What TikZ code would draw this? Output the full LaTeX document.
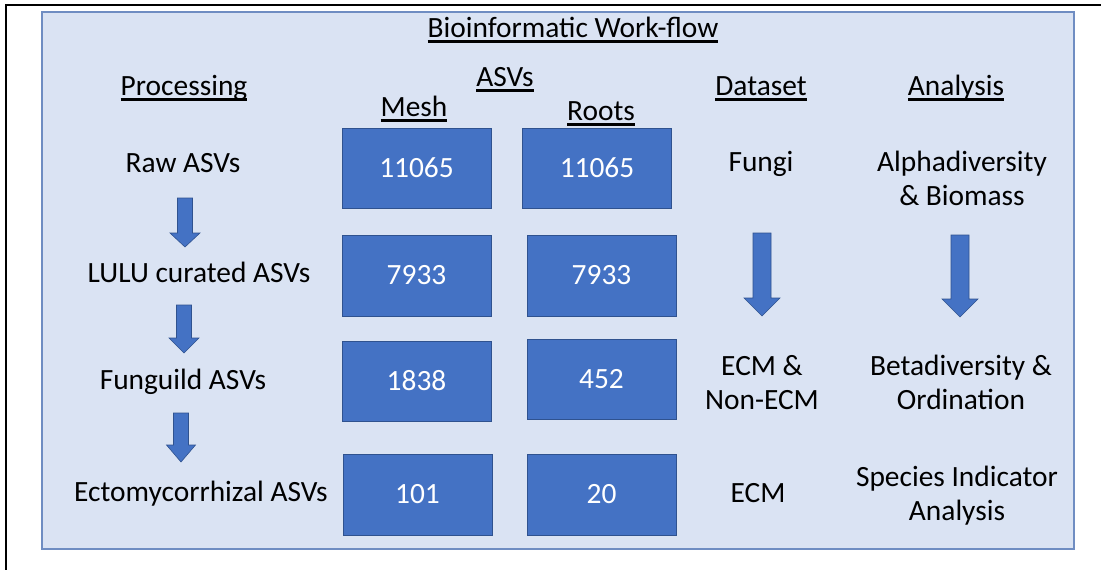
\documentclass[tikz,border=0pt]{standalone}
\usepackage{fontspec}
\setmainfont{Carlito}
\definecolor{panelfill}{HTML}{DAE3F3}
\definecolor{panelborder}{HTML}{6F8DC2}
\definecolor{boxblue}{HTML}{4472C4}
\definecolor{boxborder}{HTML}{2F528F}
\newsavebox\ulbox
\newcommand\ulx[1]{\sbox\ulbox{#1}\rlap{\rule[-5.5pt]{\wd\ulbox}{2.2pt}}\usebox\ulbox}
\newcommand\barrow[6]{\filldraw[blockarrow] (#1-#5,#2) -- (#1+#5,#2) -- (#1+#5,#3) -- (#1+#6,#3) -- (#1,#4) -- (#1-#6,#3) -- (#1-#5,#3) -- cycle;}
\begin{document}
\begin{tikzpicture}[x=1pt,y=-1pt,
  every node/.style={font=\fontsize{29.4}{34}\selectfont, inner sep=0pt},
  panel/.style={fill=panelfill, draw=panelborder, line width=1.8pt},
  numbox/.style={fill=boxblue, draw=boxborder, line width=0.8pt, text=white,
    minimum width=149pt, minimum height=80pt},
  lbl/.style={anchor=base},
  multi/.style={align=center, anchor=center},
  blockarrow/.style={fill=boxblue, draw=boxborder, line width=0.6pt},
  frame/.style={draw=black, line width=2pt}]
\useasboundingbox (0,0) rectangle (1101,570);
\draw[frame] (5,5) -- (1101,5);
\draw[frame] (6,4) -- (6,570);
\draw[panel] (42,12) rectangle (1074,549);

% headings
\node[lbl] (title) at (573,37) {\ulx{Bioinformatic Work-flow}};
\node[lbl] (hproc) at (184,95) {\ulx{Processing}};
\node[lbl] (hasv) at (505,86) {\ulx{ASVs}};
\node[lbl] (hmesh) at (414,116) {\ulx{Mesh}};
\node[lbl] (hroots) at (601,120) {\ulx{Roots}};
\node[lbl] (hdata) at (761,95) {\ulx{Dataset}};
\node[lbl] (hana) at (956,95) {\ulx{Analysis}};

% processing column
\node[lbl] (raw) at (183,172) {Raw ASVs};
\node[lbl] (lulu) at (199,282) {LULU curated ASVs};
\node[lbl] (fung) at (183,389) {Funguild ASVs};
\node[lbl] (ecto) at (201,501) {Ectomycorrhizal ASVs};

% boxes
\node[numbox] (m1) at (416.5,168) {11065};
\node[numbox] (r1) at (597,168) {11065};
\node[numbox, minimum height=81pt] (m2) at (416.5,275.5) {7933};
\node[numbox, minimum height=81pt] (r2) at (601.5,275.5) {7933};
\node[numbox] (m3) at (416.5,381) {1838};
\node[numbox] (r3) at (601.5,379) {452};
\node[numbox, minimum height=81pt] (m4) at (417.5,494.5) {101};
\node[numbox, minimum height=81pt] (r4) at (601.5,494.5) {20};

% dataset column
\node[lbl] (d1) at (761,171) {Fungi};
\node[multi] (d2) at (762,383) {ECM \&\\Non-ECM};
\node[lbl] (d3) at (758,502) {ECM};

% analysis column
\node[multi] (a1) at (962,178) {Alphadiversity\\\& Biomass};
\node[multi] (a2) at (961,382.5) {Betadiversity \&\\Ordination};
\node[multi] (a3) at (957,495.5) {Species Indicator\\Analysis};

% block arrows
\barrow{185}{198}{233}{247}{7.5}{15}
\barrow{184}{305}{338}{353}{7.5}{15}
\barrow{181}{413}{445}{462}{7.5}{14.5}
\barrow{762}{233}{298}{316}{9}{18}
\barrow{960}{235}{299}{317}{9}{18}
\end{tikzpicture}
\end{document}
